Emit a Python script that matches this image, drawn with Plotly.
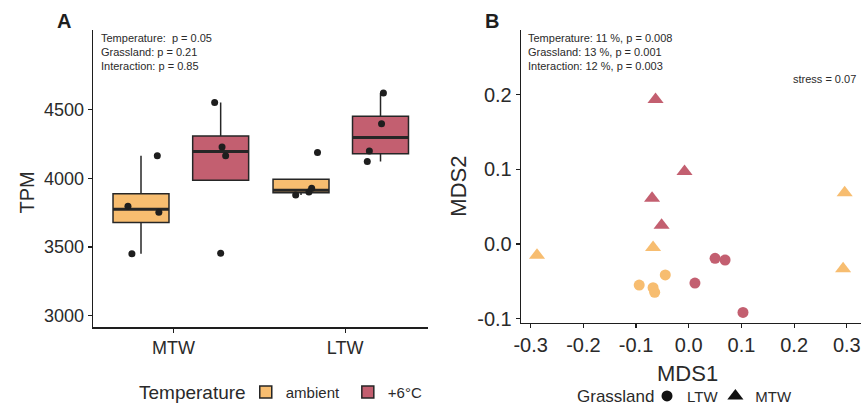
import numpy as np
import plotly.graph_objects as go

# ---------------- data ----------------
grassland = ["MTW", "LTW"]
temperature = ["ambient", "+6°C"]

# Panel A: TPM values per group
tpm_mtw_ambient = [3450, 3796, 3753, 4163]
tpm_mtw_warm = [4552, 4227, 4163, 3454]
tpm_ltw_ambient = [4188, 3879, 3900, 3927]
tpm_ltw_warm = [4620, 4396, 4198, 4122]

# horizontal jitter of the points (axis units, relative to box centre)
jit_mtw_ambient = [-0.053, -0.076, 0.104, 0.095]
jit_mtw_warm = [-0.035, 0.008, 0.029, 0.0]
jit_ltw_ambient = [0.096, -0.031, 0.046, 0.062]
jit_ltw_warm = [0.017, 0.006, -0.065, -0.077]

# Panel B: NMDS scores
mds1_ambient_ltw = [-0.0445, -0.094, -0.0677, -0.0646]
mds2_ambient_ltw = [-0.0415, -0.055, -0.0586, -0.0647]
mds1_warm_ltw = [0.050, 0.069, 0.0118, 0.103]
mds2_warm_ltw = [-0.0193, -0.0215, -0.0524, -0.0917]
mds1_ambient_mtw = [0.296, 0.293, -0.0677, -0.288]
mds2_ambient_mtw = [0.0686, -0.0331, -0.0046, -0.0151]
mds1_warm_mtw = [-0.063, -0.008, -0.0696, -0.0515]
mds2_warm_mtw = [0.1936, 0.0972, 0.0613, 0.0251]

a_tick_vals = [3000, 3500, 4000, 4500]
b_x_ticks = [-0.3, -0.2, -0.1, 0.0, 0.1, 0.2, 0.3]
b_y_ticks = [-0.1, 0.0, 0.1, 0.2]

stats_a = ["Temperature:  p = 0.05", "Grassland: p = 0.21", "Interaction: p = 0.85"]
stats_b = ["Temperature: 11 %, p = 0.008", "Grassland: 13 %, p = 0.001",
           "Interaction: 12 %, p = 0.003"]
stress_label = "stress = 0.07"

# ---------------- style ----------------
FONT = "Liberation Sans, Arial, Helvetica, sans-serif"
ORANGE = "#F7BD70"
RED = "#C35F70"
INK = "#1e1e1e"
TXT = "#2a2a2a"
W = 862
H = 413

# box positions (offset from category position), width in axis units
box_off = {("MTW", "ambient"): -0.189, ("MTW", "+6°C"): 0.275,
           ("LTW", "ambient"): -0.257, ("LTW", "+6°C"): 0.206}
BOX_W = 0.326

groups = {
    ("MTW", "ambient"): (tpm_mtw_ambient, jit_mtw_ambient),
    ("MTW", "+6°C"): (tpm_mtw_warm, jit_mtw_warm),
    ("LTW", "ambient"): (tpm_ltw_ambient, jit_ltw_ambient),
    ("LTW", "+6°C"): (tpm_ltw_warm, jit_ltw_warm),
}


def box_stats(v):
    v = np.asarray(v, float)
    q1, med, q3 = np.percentile(v, [25, 50, 75])
    iqr = q3 - q1
    lo = v[v >= q1 - 1.5 * iqr].min()
    hi = v[v <= q3 + 1.5 * iqr].max()
    return q1, med, q3, min(lo, q1), max(hi, q3)


fig = go.Figure()

colors = {"ambient": ORANGE, "+6°C": RED}
temp_legend = {"ambient": "legend", "+6°C": "legend3"}
for t in temperature:
    xs, q1s, meds, q3s, los, his = [], [], [], [], [], []
    for gi, g in enumerate(grassland):
        q1, med, q3, lo, hi = box_stats(groups[(g, t)][0])
        xs.append(gi + 1 + box_off[(g, t)])
        q1s.append(q1); meds.append(med); q3s.append(q3)
        los.append(lo); his.append(hi)
    fig.add_trace(go.Box(
        x=xs, q1=q1s, median=meds, q3=q3s, lowerfence=los, upperfence=his,
        width=BOX_W, whiskerwidth=0, boxpoints=False,
        fillcolor=colors[t], line=dict(color="#262626", width=1.5),
        name=t, legend=temp_legend[t], xaxis="x", yaxis="y", hoverinfo="skip"))
    # thicker median bar (ggplot style)
    for x0, m in zip(xs, meds):
        fig.add_trace(go.Scatter(
            x=[x0 - BOX_W / 2, x0 + BOX_W / 2], y=[m, m], mode="lines",
            line=dict(color="#262626", width=3), showlegend=False,
            xaxis="x", yaxis="y", hoverinfo="skip"))

for t in temperature:
    for gi, g in enumerate(grassland):
        vals, jit = groups[(g, t)]
        cx = gi + 1 + box_off[(g, t)]
        fig.add_trace(go.Scatter(
            x=[cx + j for j in jit], y=vals, mode="markers",
            marker=dict(color=INK, size=7), showlegend=False,
            xaxis="x", yaxis="y", hoverinfo="skip"))

# Panel B
b_sets = [
    (mds1_ambient_ltw, mds2_ambient_ltw, ORANGE, "circle", 11),
    (mds1_warm_ltw, mds2_warm_ltw, RED, "circle", 11),
    (mds1_ambient_mtw, mds2_ambient_mtw, ORANGE, "triangle-up", 14),
    (mds1_warm_mtw, mds2_warm_mtw, RED, "triangle-up", 14),
]
for x, y, c, s, sz in b_sets:
    fig.add_trace(go.Scatter(
        x=x, y=y, mode="markers",
        marker=dict(color=c, symbol=s, size=sz, line=dict(width=0)),
        showlegend=False, xaxis="x2", yaxis="y2", hoverinfo="skip"))

for name, s, sz, lg in [("LTW", "circle", 11, "legend2"),
                        ("MTW", "triangle-up", 14, "legend4")]:
    fig.add_trace(go.Scatter(
        x=[None], y=[None], mode="markers", name=name,
        marker=dict(color="#111111", symbol=s, size=sz),
        legend=lg, xaxis="x2", yaxis="y2"))

axis_common = dict(showline=True, linecolor=INK, linewidth=1.5, ticks="outside",
                   ticklen=4, tickwidth=1.2, tickcolor=INK, showgrid=False,
                   zeroline=False, fixedrange=True)


def leg(left_px, y_px):
    return dict(orientation="h", x=left_px / W, y=1 - y_px / H, xanchor="left",
                yanchor="middle", font=dict(size=15, color=TXT),
                bgcolor="rgba(0,0,0,0)", borderwidth=0)


fig.update_layout(
    width=W, height=H, margin=dict(l=0, r=0, t=0, b=0),
    paper_bgcolor="white", plot_bgcolor="white",
    font=dict(family=FONT, color=TXT),
    boxmode="overlay",
    xaxis=dict(domain=[86 / W, 424 / W], range=[0.5326, 2.483],
               tickvals=[1, 2], ticktext=grassland,
               tickfont=dict(size=18, color=TXT), anchor="y", **axis_common),
    yaxis=dict(domain=[(H - 334.3) / H, (H - 30.3) / H], range=[2917, 5082],
               tickvals=a_tick_vals, ticktext=[str(v) for v in a_tick_vals],
               tickfont=dict(size=18, color=TXT), anchor="x", **axis_common),
    xaxis2=dict(domain=[518 / W, 861 / W], range=[-0.318, 0.327],
                tickvals=b_x_ticks, ticktext=[f"{v:.1f}" for v in b_x_ticks],
                tickfont=dict(size=20, color=TXT), anchor="y2", **axis_common),
    yaxis2=dict(domain=[(H - 330) / H, (H - 30.7) / H], range=[-0.1056, 0.2865],
                tickvals=b_y_ticks, ticktext=[f"{v:.1f}" for v in b_y_ticks],
                tickfont=dict(size=20, color=TXT), anchor="x2", **axis_common),
    legend=leg(240, 401),
    legend3=leg(343, 401),
    legend2=leg(645, 405),
    legend4=leg(714, 405),
)

ann = []
for i, txt in enumerate(stats_a):
    ann.append(dict(text=txt, x=91.5 / W, y=1 - (38.5 + 14.5 * i) / H, xref="paper",
                    yref="paper", xanchor="left", yanchor="middle", showarrow=False,
                    font=dict(size=11, color=TXT)))
for i, txt in enumerate(stats_b):
    ann.append(dict(text=txt, x=522.5 / W, y=1 - (38.5 + 14.5 * i) / H, xref="paper",
                    yref="paper", xanchor="left", yanchor="middle", showarrow=False,
                    font=dict(size=11, color=TXT)))
ann.append(dict(text=stress_label, x=857.5 / W, y=1 - 81 / H, xref="paper", yref="paper",
                xanchor="right", yanchor="middle", showarrow=False,
                font=dict(size=11, color=TXT)))
ann.append(dict(text="<b>A</b>", x=57 / W, y=1 - 21 / H, xref="paper", yref="paper",
                xanchor="center", yanchor="middle", showarrow=False,
                font=dict(size=20, color=INK)))
ann.append(dict(text="<b>B</b>", x=489 / W, y=1 - 21 / H, xref="paper", yref="paper",
                xanchor="center", yanchor="middle", showarrow=False,
                font=dict(size=20, color=INK)))
ann.append(dict(text="TPM", x=19 / W, y=1 - 197 / H, xref="paper", yref="paper",
                xanchor="center", yanchor="middle", textangle=-90, showarrow=False,
                font=dict(size=20, color=TXT)))
ann.append(dict(text="MDS2", x=455 / W, y=1 - 190 / H, xref="paper", yref="paper",
                xanchor="center", yanchor="middle", textangle=-90, showarrow=False,
                font=dict(size=22, color=TXT)))
ann.append(dict(text="MDS1", x=686 / W, y=1 - 382 / H, xref="paper", yref="paper",
                xanchor="center", yanchor="middle", showarrow=False,
                font=dict(size=22, color=TXT)))
# legend titles
ann.append(dict(text="Temperature", x=130 / W, y=1 - 401 / H, xref="paper", yref="paper",
                xanchor="left", yanchor="middle", showarrow=False,
                font=dict(size=19, color=TXT)))
ann.append(dict(text="Grassland", x=572 / W, y=1 - 405 / H, xref="paper", yref="paper",
                xanchor="left", yanchor="middle", showarrow=False,
                font=dict(size=17, color=TXT)))
fig.update_layout(annotations=ann)

fig.write_html(
    "out.html",
    config={"displayModeBar": False, "staticPlot": True},
    post_script="document.body.style.margin='0';document.body.style.overflow='hidden';",
)
